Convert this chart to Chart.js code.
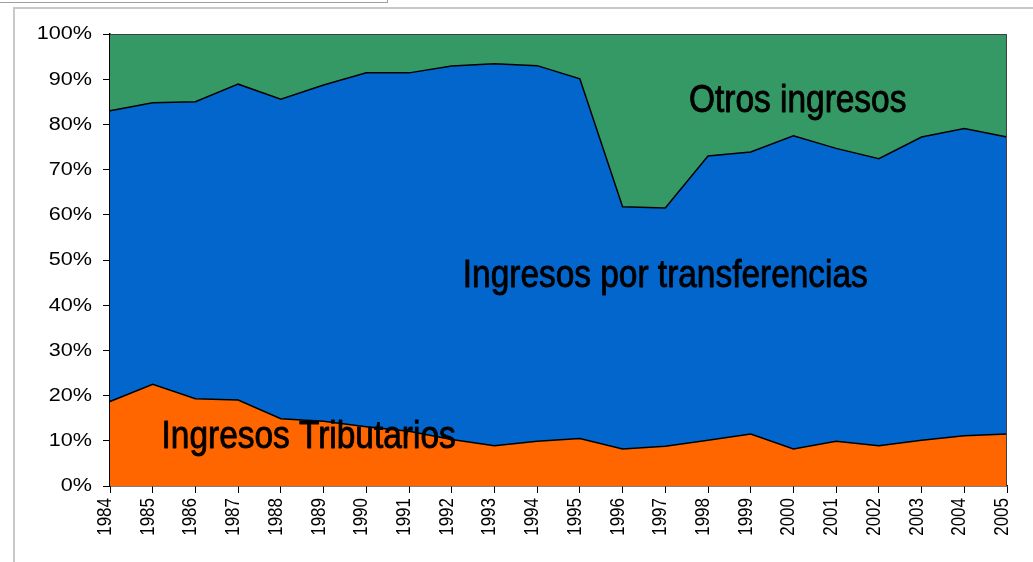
<!DOCTYPE html>
<html>
<head>
<meta charset="utf-8">
<script src="https://cdn.jsdelivr.net/npm/chart.js@4.4.1/dist/chart.umd.min.js"></script>
<style>
  html, body { margin: 0; padding: 0; background: #fff; }
  #wrap { position: relative; width: 1033px; height: 562px; overflow: hidden; }
  #caja1 { position: absolute; left: -2px; top: -2px; width: 388px; height: 4px; border: 1px solid #a0a0a0; border-top: none; }
  #marco { position: absolute; left: 13px; top: 7px; width: 1030px; height: 570px; border-left: 2px solid #c8c8c8; border-top: 2px solid #c8c8c8; }
  canvas { position: absolute; left: 0; top: 0; }
</style>
</head>
<body>
<div id="wrap">
  <div id="caja1"></div>
  <div id="marco"></div>
  <canvas id="grafico" width="1033" height="562"></canvas>
</div>
<script>
// años
const anios = ['1984','1985','1986','1987','1988','1989','1990','1991','1992','1993','1994',
  '1995','1996','1997','1998','1999','2000','2001','2002','2003','2004','2005'];

// % del total
const tributarios = [18.7, 22.5, 19.3, 19.0, 14.9, 14.3, 13.1, 12.1, 10.3, 8.9, 9.9,
  10.5, 8.2, 8.8, 10.1, 11.5, 8.2, 9.9, 8.9, 10.1, 11.1, 11.5];
const transferencias = [64.3, 62.3, 65.7, 69.9, 70.7, 74.4, 78.3, 79.3, 82.6, 84.5, 83.1,
  79.6, 53.6, 52.7, 62.9, 62.4, 69.3, 64.8, 63.5, 67.1, 68.0, 65.7];
const otros = [17.0, 15.2, 15.0, 11.1, 14.4, 11.3, 8.6, 8.6, 7.1, 6.6, 7.0,
  9.9, 38.2, 38.5, 27.0, 26.1, 22.5, 25.3, 27.6, 22.8, 20.9, 22.8];

const ticksY = [0, 10, 20, 30, 40, 50, 60, 70, 80, 90, 100];

// textos dentro del área: [texto, índice x del centro, valor y de la base]
const rotulos = [
  ['Otros ingresos', 16.1, 82.8],
  ['Ingresos por transferencias', 13.0, 44.1],
  ['Ingresos Tributarios', 4.65, 8.5]
];

// ETIQUETAS, RÓTULOS Y MARCO (el texto va un poco estirado como en el original)
const pluginRotulos = {
  id: 'rotulos',
  afterDraw(chart) {
    const ctx = chart.ctx;
    const a = chart.chartArea;
    const sx = chart.scales.x;
    const sy = chart.scales.y;
    ctx.save();
    ctx.strokeStyle = '#404040';
    ctx.lineWidth = 1;
    ctx.beginPath();
    ctx.moveTo(a.left, a.top + 0.5);
    ctx.lineTo(a.right - 0.5, a.top + 0.5);
    ctx.lineTo(a.right - 0.5, a.bottom);
    ctx.stroke();

    ctx.fillStyle = '#000';

    // eje y
    ctx.font = '18px "Liberation Sans", Arial, sans-serif';
    ctx.textAlign = 'right';
    ctx.textBaseline = 'middle';
    ticksY.forEach(v => {
      ctx.save();
      ctx.translate(a.left - 18, sy.getPixelForValue(v) + 0.5);
      ctx.scale(1.2, 1);
      ctx.fillText(v + '%', 0, 0);
      ctx.restore();
    });

    // eje x
    ctx.font = '17px "Liberation Sans", Arial, sans-serif';
    ctx.textAlign = 'right';
    ctx.textBaseline = 'alphabetic';
    anios.forEach((t, i) => {
      ctx.save();
      ctx.translate(sx.getPixelForValue(i) + 1, a.bottom + 12);
      ctx.scale(1.2, 1);
      ctx.rotate(-Math.PI / 2);
      ctx.fillText(t, 0, 0);
      ctx.restore();
    });

    // rótulos de las áreas
    ctx.font = '39px "Liberation Sans", Arial, sans-serif';
    ctx.textAlign = 'center';
    ctx.strokeStyle = '#000';
    ctx.lineWidth = 0.9;
    ctx.lineJoin = 'round';
    rotulos.forEach(r => {
      ctx.save();
      ctx.translate(sx.getPixelForValue(r[1]), sy.getPixelForValue(r[2]));
      ctx.scale(0.857, 1);
      ctx.fillText(r[0], 0, 0);
      ctx.strokeText(r[0], 0, 0);
      ctx.restore();
    });
    ctx.restore();
  }
};

const ctxGrafico = document.getElementById('grafico').getContext('2d');

const grafico = new Chart(ctxGrafico, {
  type: 'line',
  data: {
    labels: anios,
    datasets: [
      { label: 'Ingresos Tributarios', data: tributarios, backgroundColor: '#FF6600',
        borderColor: '#000', borderWidth: 1.5, fill: 'origin' },
      { label: 'Ingresos por transferencias', data: transferencias, backgroundColor: '#0366CC',
        borderColor: '#000', borderWidth: 1.5, fill: '-1' },
      { label: 'Otros ingresos', data: otros, backgroundColor: '#359966',
        borderColor: 'rgba(0,0,0,0)', borderWidth: 0, fill: '-1' }
    ]
  },
  options: {
    responsive: false,
    animation: false,
    layout: { padding: { top: 34, right: 26, left: 0, bottom: 0 } },
    elements: { point: { radius: 0 }, line: { tension: 0 } },
    plugins: { legend: { display: false }, tooltip: { enabled: false } },
    scales: {
      x: {
        offset: false,
        grid: { display: true, drawOnChartArea: false, drawTicks: true, tickLength: 7, color: '#000' },
        border: { color: '#000', width: 1.5 },
        ticks: { display: false, autoSkip: false },
        afterFit: s => { s.height = 76; }
      },
      y: {
        stacked: true,
        min: 0,
        max: 100,
        afterBuildTicks: s => { s.ticks = ticksY.map(v => ({ value: v })); },
        grid: { display: true, drawOnChartArea: false, drawTicks: true, tickLength: 7, color: '#000' },
        border: { color: '#000', width: 1.5 },
        ticks: { display: false },
        afterFit: s => { s.width = 110; }
      }
    }
  },
  plugins: [pluginRotulos]
});
</script>
</body>
</html>
